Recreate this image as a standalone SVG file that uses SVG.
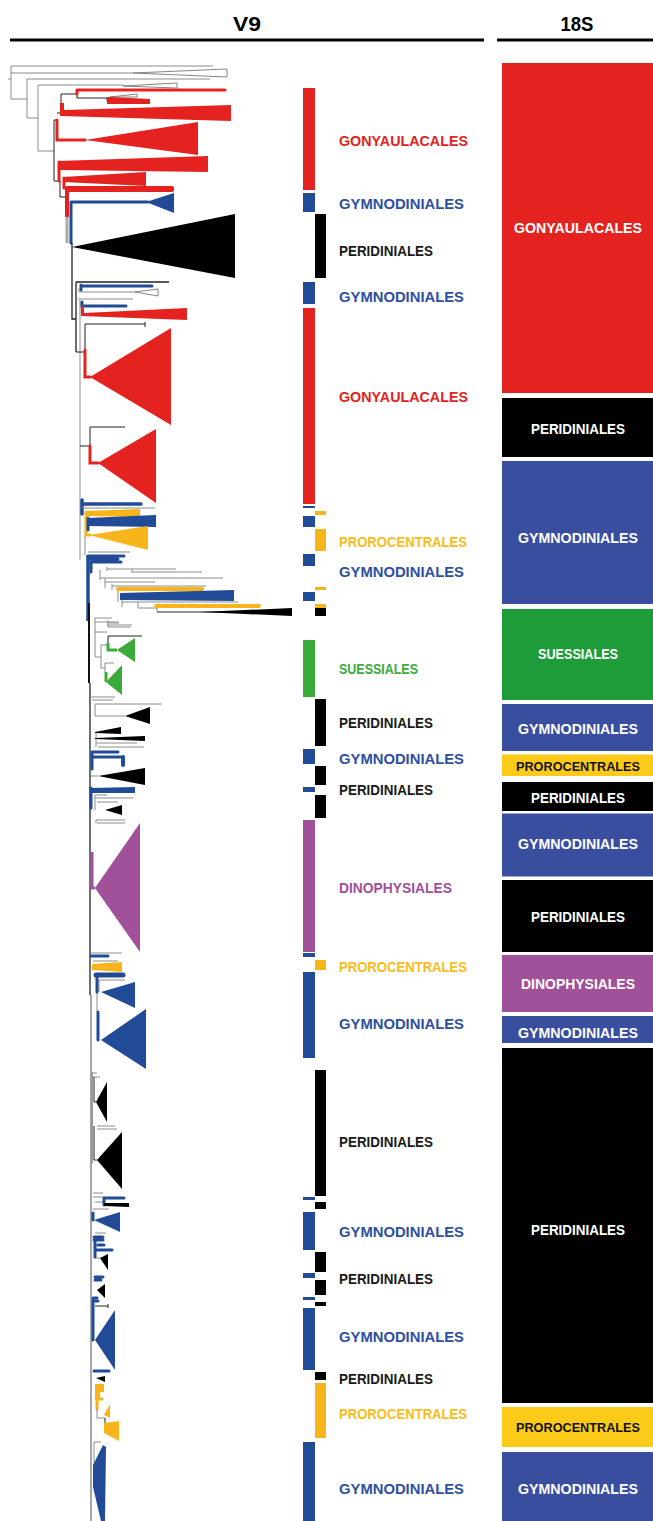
<svg xmlns="http://www.w3.org/2000/svg" width="653" height="1521" viewBox="0 0 653 1521">
<style>
.g{fill:none;stroke:#8c8c8c;stroke-width:1}
.k{fill:none;stroke:#222;stroke-width:1}
.r{fill:none;stroke:#e42320;stroke-width:3;stroke-linecap:round}
.b{fill:none;stroke:#214b97;stroke-width:3;stroke-linecap:round}
.y{fill:none;stroke:#f7b51b;stroke-width:3;stroke-linecap:round}
.gr{fill:none;stroke:#3aab38;stroke-width:3}
.p{fill:none;stroke:#a1509a;stroke-width:3}
.fr{fill:#e42320}.fb{fill:#214b97}.fy{fill:#f7b51b}.fg{fill:#3aab38}.fp{fill:#a1509a}.fk{fill:#000}
.fw{fill:#fff;stroke:#666;stroke-width:0.8}
.lab{font-family:"Liberation Sans",Arial,sans-serif;font-weight:bold;font-size:15.5px}
.box{font-family:"Liberation Sans",Arial,sans-serif;font-weight:bold;font-size:15px;text-anchor:middle}
.boxs{font-family:"Liberation Sans",Arial,sans-serif;font-weight:bold;font-size:13px}
.t{font-family:"Liberation Sans",Arial,sans-serif;font-weight:bold;font-size:21px;text-anchor:middle}
</style>
<g id="header">
<text class="t" x="247" y="31" textLength="28" lengthAdjust="spacingAndGlyphs">V9</text>
<text class="t" x="577" y="31" textLength="33" lengthAdjust="spacingAndGlyphs">18S</text>
<rect x="10" y="38.5" width="474" height="3" fill="#000"/>
<rect x="497" y="38.5" width="156" height="3" fill="#000"/>
</g>
<g id="tree">
<path class="g" d="M8,79H11M11,66V99M11,66H213M11,73H133M11,99H27M27,79V118M27,79H210M27,118H38M38,85V151M38,85H123M38,151H54"/>
<polygon class="fw" points="133,73 227,69 227,77"/>
<polygon class="fw" points="123,86 177,83 177,88"/>
<path class="k" d="M54,120V181M54,120H57M61,94V103M57,113H61M61,94H77M77,94V98H110M107,98V101M54,181H60V197H66"/>
<path class="r" d="M77,90H225M77,90V94"/>
<polygon class="fw" points="110,97 137,94 137,97"/>
<polygon class="fr" points="107,97 110,97 150,99 150,104 107,104"/>
<polygon class="fr" points="60,103 64,103 64,110 231,105 231,121 60,116"/>
<path class="r" d="M57,120V140H85"/>
<polygon class="fr" points="85,140 198,122 198,155"/>
<path class="r" d="M59,162V181"/>
<polygon class="fr" points="58,161 208,156 208,172 60,170"/>
<path class="r" d="M64,178V188"/>
<polygon class="fr" points="63,177 146,172 146,186 63,182"/>
<rect class="fr" x="66" y="186" width="108" height="6" rx="2"/>
<path class="r" d="M67,188V216" style="stroke-width:4"/>
<path class="b" d="M71,202V243M71,202H148"/>
<polygon class="fb" points="146,202 174,193 174,213"/>
<path d="M67,217V243" stroke="#aaa" stroke-width="3"/>
<polygon class="fk" points="72,247 235,214 235,278"/>
<path class="k" d="M72,243V319H76M76,282V352M76,282H169" style="stroke-width:1.3"/>
<path class="b" d="M81,286H152M81,285V290"/>
<path class="g" d="M79,288V292H135M78,299H133M80,300V560"/>
<polygon class="fw" points="135,292 158,289 158,296"/>
<path class="b" d="M82,306H126M82,302V307"/>
<polygon class="fr" points="81,306 84,306 84,313 187,308 187,320 81,316"/>
<path class="k" d="M85,324H145M145,322V327M85,324V350M76,352H85M80,446H90M90,427V446M90,427H125"/>
<path class="r" d="M85,350V377H90"/>
<polygon class="fr" points="90,377 171,328 171,425"/>
<path class="r" d="M90,446V463H98"/>
<polygon class="fr" points="98,463 156,429 156,503"/>
<path class="b" d="M82,504H141M82,500V514" style="stroke-width:3.5"/>
<path class="g" d="M82,508H155M85,535V555"/>
<path class="y" d="M86,512V535H90"/>
<polygon class="fy" points="86,511 140,509 140,517 86,516"/>
<path class="b" d="M88,518V530"/>
<polygon class="fb" points="88,518 156,515 156,527 88,526"/>
<polygon class="fy" points="89,535 148,526 148,550"/>
<path d="M88,555V621" stroke="#214b97" stroke-width="3.5"/>
<path d="M89,603V683" stroke="#111" stroke-width="2"/>
<path d="M90,683V995" stroke="#222" stroke-width="1.3"/>
<path d="M91,995V1521" stroke="#777" stroke-width="1.3"/>
<path class="g" d="M88,552H130"/>
<path class="b" d="M88,556H124M88,559H118M91,562V572M91,562H121"/>
<path class="g" d="M107,569H176M107,567V571M132,569V573M132,572H202M100,570V580M100,578H223M105,578V588M105,582H155M112,586H206M112,584V590M118,590V602M122,602H238M122,600V607M138,602V608M138,608H157M157,607V612"/>
<path class="y" d="M118,589H202" style="stroke-width:4"/>
<polygon class="fb" points="120,593 234,590 234,601 120,600"/>
<path class="y" d="M156,606H259" style="stroke-width:4"/>
<path class="k" d="M157,612H225"/>
<polygon class="fk" points="200,612 292,608 292,616"/>
<path class="g" d="M95,618H112M95,618V632M108,620V627M108,623H119M108,627H131M95,622H119M107,625H132M95,632H107M95,632V657H101M101,645V668H105M101,645H108"/>
<path class="k" d="M108,636H142M108,636V643"/>
<path class="gr" d="M108,643V650H117"/>
<polygon class="fg" points="117,650 135,638 135,662"/>
<path class="g" d="M105,663H114M105,663V672"/>
<path class="gr" d="M106,672V682"/>
<polygon class="fg" points="106,682 122,665 122,695"/>
<path class="g" d="M90,697H115M92,700H113M95,704H162M95,704V716H125M96,743H137M98,747H144M96,732V747M91,776H98M95,795H107M95,798H133M95,795V810M97,802H118M96,820H125M97,823H125M96,820V823"/>
<polygon class="fk" points="125,716 150,707 150,724"/>
<polygon class="fk" points="95,732 121,727 121,734 95,733"/>
<polygon class="fk" points="95,738 145,736 145,741 95,739"/>
<path class="b" d="M92,752V769M92,752H118M92,757H121"/>
<path class="b" d="M123,757V765" style="stroke-width:4"/>
<polygon class="fk" points="98,776 145,768 145,785"/>
<polygon class="fb" points="90,788 135,787 135,793 90,793"/>
<path class="b" d="M91,788V808"/>
<polygon class="fk" points="105,810 122,805 122,815"/>
<path class="p" d="M92,852V888H95"/>
<polygon class="fp" points="95,888 140,823 140,952"/>
<path class="g" d="M91,953H122M93,961H118M99,980H125M99,980V992M97,992V1012"/>
<path class="b" d="M91,956H108"/>
<polygon class="fy" points="92,964 122,962 122,972 92,970"/>
<path class="b" d="M96,975H123" style="stroke-width:5"/>
<path class="b" d="M97,975V992"/>
<polygon class="fb" points="101,992 135,982 135,1008"/>
<path class="b" d="M98,1012V1040"/>
<polygon class="fb" points="101,1040 146,1009 146,1069"/>
<path d="M92,1072V1163" stroke="#999" stroke-width="2"/>
<path class="g" d="M93,1073H97M93,1077H100M97,1126H115M97,1129H117M93,1193H103M93,1197H105M95,1202H104M93,1209H109M95,1233H106M95,1258H100"/>
<path class="k" d="M94,1077V1102H96M94,1126V1160H97"/>
<polygon class="fk" points="96,1102 107,1082 107,1122"/>
<polygon class="fk" points="97,1160 122,1132 122,1189"/>
<path class="b" d="M104,1198H124M104,1198V1205"/>
<polygon class="fk" points="104,1203 129,1203 129,1207 104,1206"/>
<path class="b" d="M93,1213V1220"/>
<polygon class="fb" points="94,1220 120,1212 120,1232"/>
<path class="b" d="M94,1237H103M94,1240H103M95,1237V1257M98,1245H104M95,1250H112M95,1277H103M95,1280H101M93,1298H97"/>
<polygon class="fk" points="100,1258 108,1254 108,1270"/>
<polygon class="fk" points="97,1290 105,1284 105,1298"/>
<path class="b" d="M93,1300V1340M93,1301H98"/>
<path class="k" d="M95,1306H108M108,1304V1308"/>
<polygon class="fb" points="95,1340 115,1310 115,1370"/>
<path class="b" d="M94,1371H109"/>
<polygon class="fk" points="96,1378 105,1376 105,1382"/>
<polygon class="fy" points="95,1384 104,1384 104,1392 100,1392 100,1398 95,1398"/>
<path class="y" d="M96,1399H102M97,1399V1409"/>
<path class="g" d="M97,1409V1418H105"/>
<polygon class="fy" points="104,1415 110,1404 110,1418"/>
<path class="k" d="M105,1418V1427"/>
<polygon class="fy" points="104,1423 119,1421 119,1441 104,1433"/>
<path class="g" d="M94,1442H101M94,1442V1463"/>
<polygon class="fb" points="93,1465 103,1445 106,1447 105,1521 101,1521 93,1487"/>
</g>
<g id="v9-bars">
<rect class="fr" x="303" y="88" width="12" height="102"/>
<rect class="fb" x="303" y="193" width="12" height="19"/>
<rect class="fk" x="315" y="214" width="11" height="64"/>
<rect class="fb" x="303" y="282" width="12" height="22"/>
<rect class="fr" x="303" y="308" width="12" height="196"/>
<rect class="fb" x="303" y="506" width="12" height="2"/>
<rect class="fy" x="315" y="511" width="11" height="4"/>
<rect class="fb" x="303" y="516" width="12" height="11"/>
<rect class="fy" x="315" y="529" width="11" height="22"/>
<rect class="fb" x="303" y="554" width="12" height="12"/>
<rect class="fy" x="315" y="587" width="11" height="3"/>
<rect class="fb" x="303" y="592" width="12" height="9"/>
<rect class="fy" x="315" y="604" width="11" height="4"/>
<rect class="fk" x="315" y="608" width="11" height="8"/>
<rect class="fg" x="303" y="640" width="12" height="57"/>
<rect class="fk" x="315" y="699" width="11" height="47"/>
<rect class="fb" x="303" y="749" width="12" height="15"/>
<rect class="fk" x="315" y="766" width="11" height="19"/>
<rect class="fb" x="303" y="787" width="12" height="5"/>
<rect class="fk" x="315" y="795" width="11" height="23"/>
<rect class="fp" x="303" y="820" width="12" height="132"/>
<rect class="fb" x="303" y="953" width="12" height="4"/>
<rect class="fy" x="315" y="960" width="11" height="10"/>
<rect class="fb" x="303" y="972" width="12" height="86"/>
<rect class="fk" x="315" y="1070" width="11" height="126"/>
<rect class="fb" x="303" y="1197" width="12" height="3"/>
<rect class="fk" x="315" y="1202" width="11" height="7"/>
<rect class="fb" x="303" y="1212" width="12" height="38"/>
<rect class="fk" x="315" y="1252" width="11" height="20"/>
<rect class="fb" x="303" y="1273" width="12" height="5"/>
<rect class="fk" x="315" y="1280" width="11" height="15"/>
<rect class="fb" x="303" y="1297" width="12" height="3"/>
<rect class="fk" x="315" y="1302" width="11" height="4"/>
<rect class="fb" x="303" y="1308" width="12" height="62"/>
<rect class="fk" x="315" y="1372" width="11" height="8"/>
<rect class="fy" x="315" y="1383" width="11" height="55"/>
<rect class="fb" x="303" y="1442" width="12" height="79"/>
</g>
<g id="v9-labels" class="lab">
<text x="339" y="145.5" fill="#e42320" textLength="129" lengthAdjust="spacingAndGlyphs">GONYAULACALES</text>
<text x="339" y="208.5" fill="#2e4fa2" textLength="125" lengthAdjust="spacingAndGlyphs">GYMNODINIALES</text>
<text x="339" y="255.5" fill="#1a1a1a" textLength="94" lengthAdjust="spacingAndGlyphs">PERIDINIALES</text>
<text x="339" y="301.5" fill="#2e4fa2" textLength="125" lengthAdjust="spacingAndGlyphs">GYMNODINIALES</text>
<text x="339" y="401.5" fill="#e42320" textLength="129" lengthAdjust="spacingAndGlyphs">GONYAULACALES</text>
<text x="339" y="546.5" fill="#f9bc1c" textLength="128" lengthAdjust="spacingAndGlyphs">PROROCENTRALES</text>
<text x="339" y="576.5" fill="#2e4fa2" textLength="125" lengthAdjust="spacingAndGlyphs">GYMNODINIALES</text>
<text x="339" y="673.5" fill="#3aab38" textLength="79" lengthAdjust="spacingAndGlyphs">SUESSIALES</text>
<text x="339" y="727.5" fill="#1a1a1a" textLength="94" lengthAdjust="spacingAndGlyphs">PERIDINIALES</text>
<text x="339" y="763.5" fill="#2e4fa2" textLength="125" lengthAdjust="spacingAndGlyphs">GYMNODINIALES</text>
<text x="339" y="794.5" fill="#1a1a1a" textLength="94" lengthAdjust="spacingAndGlyphs">PERIDINIALES</text>
<text x="339" y="892.5" fill="#a1509a" textLength="113" lengthAdjust="spacingAndGlyphs">DINOPHYSIALES</text>
<text x="339" y="971.5" fill="#f9bc1c" textLength="128" lengthAdjust="spacingAndGlyphs">PROROCENTRALES</text>
<text x="339" y="1028.5" fill="#2e4fa2" textLength="125" lengthAdjust="spacingAndGlyphs">GYMNODINIALES</text>
<text x="339" y="1146.5" fill="#1a1a1a" textLength="94" lengthAdjust="spacingAndGlyphs">PERIDINIALES</text>
<text x="339" y="1236.5" fill="#2e4fa2" textLength="125" lengthAdjust="spacingAndGlyphs">GYMNODINIALES</text>
<text x="339" y="1283.5" fill="#1a1a1a" textLength="94" lengthAdjust="spacingAndGlyphs">PERIDINIALES</text>
<text x="339" y="1341.5" fill="#2e4fa2" textLength="125" lengthAdjust="spacingAndGlyphs">GYMNODINIALES</text>
<text x="339" y="1383.5" fill="#1a1a1a" textLength="94" lengthAdjust="spacingAndGlyphs">PERIDINIALES</text>
<text x="339" y="1418.5" fill="#f9bc1c" textLength="128" lengthAdjust="spacingAndGlyphs">PROROCENTRALES</text>
<text x="339" y="1493.5" fill="#2e4fa2" textLength="125" lengthAdjust="spacingAndGlyphs">GYMNODINIALES</text>
</g>
<g id="s18">
<g id="s1"><rect x="502" y="63" width="151" height="330" fill="#e42320"/><text class="box" x="578" y="232.5" fill="#fff" textLength="128" lengthAdjust="spacingAndGlyphs">GONYAULACALES</text></g>
<g id="s2"><rect x="502" y="398" width="151" height="59" fill="#000"/><text class="box" x="578" y="433.5" fill="#fff" textLength="94" lengthAdjust="spacingAndGlyphs">PERIDINIALES</text></g>
<g id="s3"><rect x="502" y="461" width="151" height="143" fill="#3a4ea0"/><text class="box" x="578" y="542.5" fill="#fff" textLength="120" lengthAdjust="spacingAndGlyphs">GYMNODINIALES</text></g>
<g id="s4"><rect x="502" y="609" width="151" height="91" fill="#1e9c3a"/><text class="box" x="578" y="658.5" fill="#fff" textLength="80" lengthAdjust="spacingAndGlyphs">SUESSIALES</text></g>
<g id="s5"><rect x="502" y="704" width="151" height="47" fill="#3a4ea0"/><text class="box" x="578" y="733.5" fill="#fff" textLength="120" lengthAdjust="spacingAndGlyphs">GYMNODINIALES</text></g>
<g id="s6"><rect x="502" y="754.5" width="151" height="21.5" fill="#fcca18"/><text class="boxs" x="516" y="770.5" fill="#111" textLength="124" lengthAdjust="spacingAndGlyphs">PROROCENTRALES</text></g>
<g id="s7"><rect x="502" y="782" width="151" height="29" fill="#000"/><text class="box" x="578" y="802.5" fill="#fff" textLength="94" lengthAdjust="spacingAndGlyphs">PERIDINIALES</text></g>
<g id="s8"><rect x="502" y="813.5" width="151" height="63" fill="#3a4ea0"/><text class="box" x="578" y="848.5" fill="#fff" textLength="120" lengthAdjust="spacingAndGlyphs">GYMNODINIALES</text></g>
<g id="s9"><rect x="502" y="880" width="151" height="72" fill="#000"/><text class="box" x="578" y="921.5" fill="#fff" textLength="94" lengthAdjust="spacingAndGlyphs">PERIDINIALES</text></g>
<g id="s10"><rect x="502" y="955" width="151" height="57" fill="#a1509a"/><text class="box" x="578" y="988.5" fill="#fff" textLength="114" lengthAdjust="spacingAndGlyphs">DINOPHYSIALES</text></g>
<g id="s11"><rect x="502" y="1016" width="151" height="27" fill="#3a4ea0"/><text class="box" x="578" y="1037.5" fill="#fff" textLength="120" lengthAdjust="spacingAndGlyphs">GYMNODINIALES</text></g>
<g id="s12"><rect x="502" y="1048" width="151" height="355" fill="#000"/><text class="box" x="578" y="1234.5" fill="#fff" textLength="94" lengthAdjust="spacingAndGlyphs">PERIDINIALES</text></g>
<g id="s13"><rect x="502" y="1407" width="151" height="40" fill="#fcca18"/><text class="boxs" x="516" y="1432" fill="#111" textLength="124" lengthAdjust="spacingAndGlyphs">PROROCENTRALES</text></g>
<g id="s14"><rect x="502" y="1452" width="151" height="69" fill="#3a4ea0"/><text class="box" x="578" y="1493.5" fill="#fff" textLength="120" lengthAdjust="spacingAndGlyphs">GYMNODINIALES</text></g>
</g>
</svg>
